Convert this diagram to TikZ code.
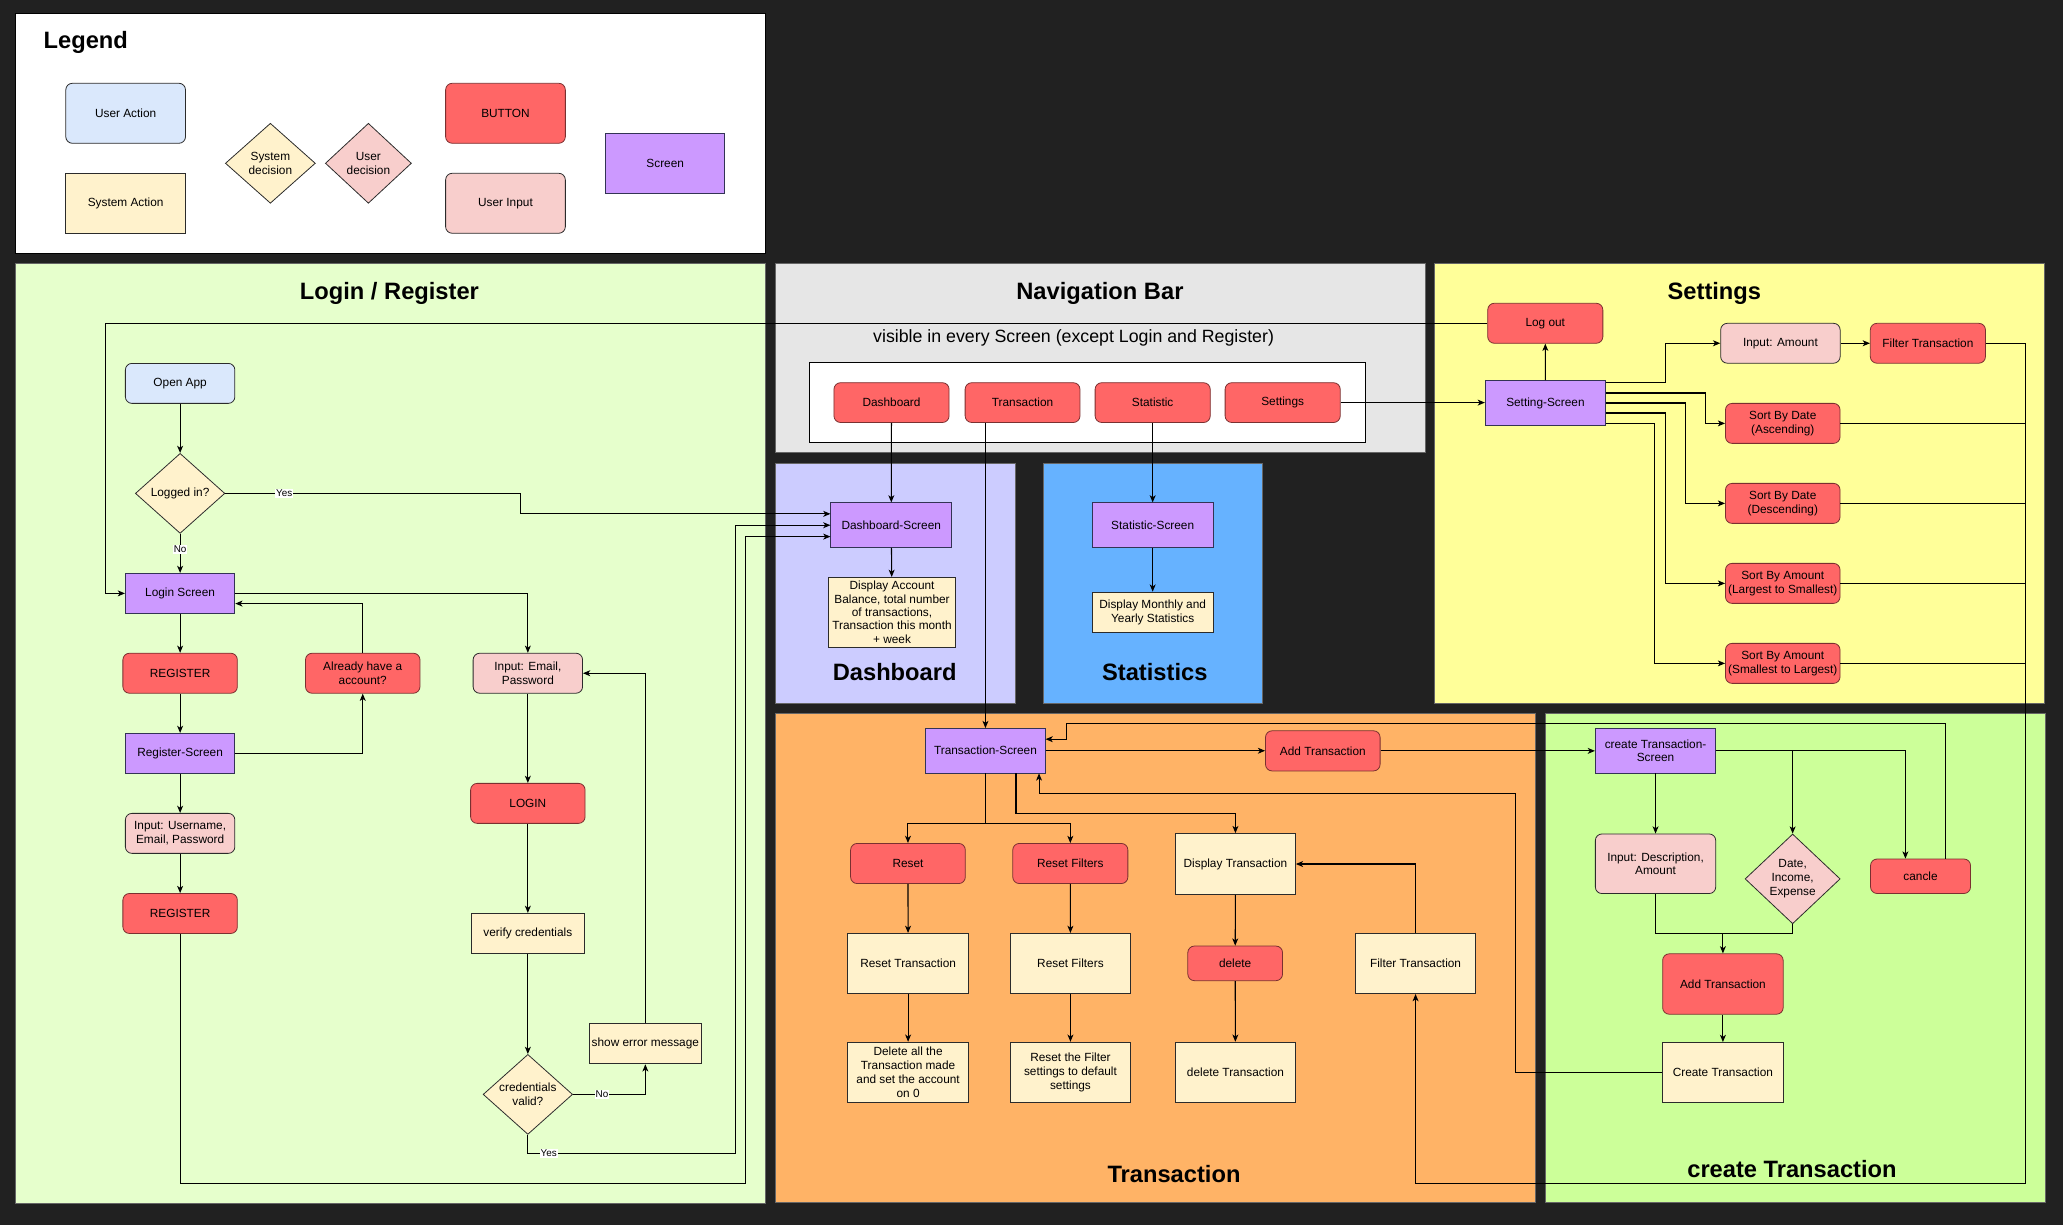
\documentclass[tikz,border=0pt]{standalone}
\usepackage{fontspec}
\setmainfont{Liberation Sans}
\usetikzlibrary{arrows.meta,calc,shapes.geometric}

\definecolor{bgdark}{HTML}{212121}
\definecolor{uablue}{HTML}{DAE8FC}
\definecolor{sayellow}{HTML}{FFF2CC}
\definecolor{btnred}{HTML}{FF6666}
\definecolor{uipink}{HTML}{F8CECC}
\definecolor{scrpurple}{HTML}{CC99FF}
\definecolor{loginbg}{HTML}{E6FFCC}
\definecolor{navbg}{HTML}{E6E6E6}
\definecolor{dashbg}{HTML}{CCCCFF}
\definecolor{statbg}{HTML}{66B2FF}
\definecolor{setbg}{HTML}{FFFF99}
\definecolor{transbg}{HTML}{FFB366}
\definecolor{ctbg}{HTML}{CCFF99}
\definecolor{strokeA}{HTML}{2B2B2B}
\definecolor{btnstroke}{HTML}{7A3030}
\definecolor{scrstroke}{HTML}{333355}

\begin{document}
\begin{tikzpicture}[x=1pt,y=-1pt,
  nbox/.style={line width=0.6pt, align=center, font=\fontsize{9}{10.5}\selectfont, inner sep=1pt, text=black},
  wh/.style 2 args={minimum width=#1pt, minimum height=#2pt},
  uact/.style={nbox, rounded corners=5pt, fill=uablue, draw=strokeA},
  sact/.style={nbox, fill=sayellow, draw=strokeA},
  btn/.style={nbox, rounded corners=5pt, fill=btnred, draw=btnstroke},
  uin/.style={nbox, rounded corners=5pt, fill=uipink, draw=strokeA},
  scr/.style={nbox, fill=scrpurple, draw=scrstroke},
  sdec/.style={nbox, diamond, inner sep=0pt, fill=sayellow, draw=strokeA},
  udec/.style={nbox, diamond, inner sep=0pt, fill=uipink, draw=strokeA},
  panel/.style={draw=black!60, line width=0.6pt},
  ptitle/.style={font=\fontsize{18}{21}\selectfont\bfseries, inner sep=0pt},
  conn/.style={draw=black, line width=0.8pt},
  arr/.style={conn, -{Stealth[length=5.5pt,width=4.5pt,inset=1.5pt]}},
  lbl/.style={fill=white, inner sep=0.6pt, font=\fontsize{7.5}{8}\selectfont}]

% canvas
\fill[bgdark] (0,0) rectangle (1568,931);

% ---------- legend ----------
\path[fill=white, draw=black, line width=0.6pt] (11.5,10.5) rectangle (581.5,192.5);
\node[ptitle, anchor=west] (legendTitle) at (33,32.5) {Legend};
\node[uact, wh={91}{45.6}] (lgUA) at (95.5,86.1) {User Action};
\node[sact, wh={91}{45.6}] (lgSA) at (95.5,154.5) {System Action};
\node[sdec, wh={68.4}{60.8}, aspect=1.125] (lgSD) at (205.5,124.1) {System\\decision};
\node[udec, wh={65.4}{60.8}, aspect=1.075] (lgUD) at (280,124.1) {User\\decision};
\node[btn, wh={91}{45.6}] (lgBT) at (384.2,86.1) {BUTTON};
\node[uin, wh={91}{45.6}] (lgUI) at (384.2,154.5) {User Input};
\node[scr, wh={90.7}{45.6}] (lgSC) at (505.6,124.1) {Screen};

% ---------- panels ----------
\path[panel, fill=loginbg] (11.5,200) rectangle (582,914.5);
\path[panel, fill=navbg] (589,200) rectangle (1083,344);
\path[panel, fill=dashbg] (589,352.5) rectangle (771.5,534.6);
\path[panel, fill=statbg] (793,352.5) rectangle (959.2,534.6);
\path[panel, fill=setbg] (1090.5,200.2) rectangle (1554,534.6);
\path[panel, fill=transbg] (589,542.2) rectangle (1167,914.2);
\path[panel, fill=ctbg] (1174.5,542.2) rectangle (1554.5,914.2);
\path[fill=white, draw=black, line width=0.6pt] (615.5,275.8) rectangle (1037.5,336.4);

\node[ptitle] (tLogin) at (296,222.9) {Login / Register};
\node[ptitle] (tNav) at (836,222.9) {Navigation Bar};
\node[font=\fontsize{13.5}{16}\selectfont, inner sep=0pt] (tNavSub) at (816,256.8) {visible in every Screen (except Login and Register)};
\node[ptitle] (tDash) at (680,510.6) {Dashboard};
\node[ptitle] (tStat) at (877.7,510.6) {Statistics};
\node[ptitle] (tSet) at (1303,222.9) {Settings};
\node[ptitle] (tTrans) at (892.3,892) {Transaction};
\node[ptitle] (tCreate) at (1362,888.3) {create Transaction};

% ---------- login / register ----------
\node[uact, wh={83.2}{30.4}] (open) at (136.9,291.4) {Open App};
\node[sdec, wh={68}{60.8}, aspect=1.12] (logged) at (136.9,375) {Logged in?};
\node[scr, wh={83.2}{30.4}] (login) at (136.9,451) {Login Screen};
\node[btn, wh={87}{30.4}] (reg1) at (136.9,511.7) {REGISTER};
\node[btn, wh={87}{30.4}] (already) at (275.7,511.7) {Already have a\\account?};
\node[uin, wh={83.2}{30.4}] (inemail) at (401.2,511.7) {Input: Email,\\Password};
\node[scr, wh={83.2}{30.4}] (regscr) at (136.9,572.6) {Register-Screen};
\node[uin, wh={83.2}{30.4}] (inuser) at (136.9,633.4) {Input: Username,\\Email, Password};
\node[btn, wh={87}{30.4}] (reg2) at (136.9,694.3) {REGISTER};
\node[btn, wh={87}{30.4}] (loginbtn) at (401.2,610.6) {LOGIN};
\node[sact, wh={85.4}{30.4}] (verify) at (401.2,709.4) {verify credentials};
\node[sdec, wh={68}{60.8}, aspect=1.12] (valid) at (401.2,831.8) {credentials\\valid?};
\node[sact, wh={85.5}{30.4}, inner sep=0pt] (errmsg) at (490.5,793.4) {show error message};

% ---------- navigation bar ----------
\node[btn, wh={87.5}{30.2}] (nbdash) at (677.6,306) {Dashboard};
\node[btn, wh={87.3}{30.2}] (nbtrans) at (777.2,306) {Transaction};
\node[btn, wh={87.5}{30.2}] (nbstat) at (876.1,306) {Statistic};
\node[btn, wh={87.5}{30.2}] (nbset) at (974.9,306) {Settings};

% ---------- dashboard / statistics ----------
\node[scr, wh={91.8}{34}] (dscr) at (677.4,399.2) {Dashboard-Screen};
\node[sact, wh={96.3}{53}, inner sep=0pt, font=\fontsize{9}{10.2}\selectfont] (dispacc) at (678,465.3)
  {Display Account\\Balance, total number\\of transactions,\\Transaction this month\\+ week};
\node[scr, wh={92}{34}] (sscr) at (876.1,399.2) {Statistic-Screen};
\node[sact, wh={92}{30.4}] (dispstat) at (876.1,465.2) {Display Monthly and\\Yearly Statistics};

% ---------- settings ----------
\node[btn, wh={87.5}{30.4}] (logout) at (1174.5,245.7) {Log out};
\node[scr, wh={91.4}{34}] (setscr) at (1174.6,306.3) {Setting-Screen};
\node[uin, wh={90.8}{30.3}] (inamt) at (1353.2,260.9) {Input: Amount};
\node[btn, wh={87.5}{30.3}] (filt) at (1465.3,260.9) {Filter Transaction};
\node[btn, wh={87.1}{30.4}] (sasc) at (1355,321.8) {Sort By Date\\(Ascending)};
\node[btn, wh={87.1}{30.4}] (sdesc) at (1355,382.6) {Sort By Date\\(Descending)};
\node[btn, wh={87.1}{30.4}, inner sep=0pt] (sl2s) at (1355,443.4) {Sort By Amount\\(Largest to Smallest)};
\node[btn, wh={87.1}{30.4}, inner sep=0pt] (ss2l) at (1355,504.2) {Sort By Amount\\(Smallest to Largest)};

% ---------- transaction ----------
\node[scr, wh={90.7}{33.8}] (tscr) at (749,570.6) {Transaction-Screen};
\node[btn, wh={87.1}{30.5}] (addt) at (1005.4,570.7) {Add Transaction};
\node[btn, wh={87.2}{30.5}] (reset) at (690.1,656.3) {Reset};
\node[btn, wh={87.5}{30.5}] (rfbtn) at (813.5,656.3) {Reset Filters};
\node[sact, wh={91.2}{46.3}] (disp) at (939,656.7) {Display Transaction};
\node[sact, wh={91.8}{45.8}] (rtr) at (690.2,732.3) {Reset Transaction};
\node[sact, wh={91.5}{45.8}] (rfact) at (813.6,732.3) {Reset Filters};
\node[btn, wh={72}{26.3}] (del) at (938.8,732.2) {delete};
\node[sact, wh={91.2}{45.8}] (ftrans) at (1075.9,732.3) {Filter Transaction};
\node[sact, wh={91.8}{45.8}] (delall) at (690.2,815) {Delete all the\\Transaction made\\and set the account\\on 0};
\node[sact, wh={91.5}{45.8}] (rfdef) at (813.6,815) {Reset the Filter\\settings to default\\settings};
\node[sact, wh={91.2}{45.8}] (deltr) at (939,815) {delete Transaction};

% ---------- create transaction ----------
\node[scr, wh={91.5}{33.8}] (cts) at (1258.3,570.6) {create Transaction-\\Screen};
\node[uin, wh={91.5}{45.3}] (indesc) at (1258.3,656.5) {Input: Description,\\Amount};
\node[udec, wh={72.3}{68.2}, aspect=1.06] (dte) at (1362.5,668) {Date,\\Income,\\Expense};
\node[btn, wh={76}{26.2}] (cancle) at (1459.7,666) {cancle};
\node[btn, wh={91.6}{45.9}] (addt2) at (1309.5,747.9) {Add Transaction};
\node[sact, wh={91.6}{45.8}] (ctr) at (1309.5,815.2) {Create Transaction};

% ---------- routing helpers ----------
\coordinate (vYes) at (395.5,0);
\coordinate (vL1) at (559.3,0);
\coordinate (vL2) at (566.5,0);
\coordinate (hY) at (0,876.6);
\coordinate (hR) at (0,899.4);
\coordinate (vLog) at (80.2,0);
\coordinate (dIn1) at ($(dscr.north west)!0.25!(dscr.south west)$);
\coordinate (dIn2) at ($(dscr.north west)!0.5!(dscr.south west)$);
\coordinate (dIn3) at ($(dscr.north west)!0.75!(dscr.south west)$);
\coordinate (lgIn) at ($(login.north east)!0.75!(login.south east)$);
\coordinate (s1) at ($(setscr.north east)!0.06!(setscr.south east)$);
\coordinate (s2) at ($(setscr.north east)!0.28!(setscr.south east)$);
\coordinate (s3) at ($(setscr.north east)!0.5!(setscr.south east)$);
\coordinate (s4) at ($(setscr.north east)!0.72!(setscr.south east)$);
\coordinate (s5) at ($(setscr.north east)!0.94!(setscr.south east)$);
\coordinate (vS1) at (1265.8,0);
\coordinate (vS2) at (1296.2,0);
\coordinate (vS3) at (1280.8,0);
\coordinate (vS4) at (1265.8,0);
\coordinate (vS5) at (1257.8,0);
\coordinate (vR) at (1539.5,0);
\coordinate (hB) at (0,899.5);
\coordinate (hSplit) at (0,625.7);
\coordinate (hD) at (0,618.1);
\coordinate (tb2) at ($(tscr.south west)!0.754!(tscr.south east)$);
\coordinate (tb3) at ($(tscr.south west)!0.946!(tscr.south east)$);
\coordinate (vRet) at (1151.7,0);
\coordinate (hRet) at (0,603);
\coordinate (tr1) at ($(tscr.north east)!0.245!(tscr.south east)$);
\coordinate (cnout) at ($(cancle.north west)!0.75!(cancle.north east)$);
\coordinate (cnin) at ($(cancle.north west)!0.35!(cancle.north east)$);
\coordinate (hTop) at (0,549.8);
\coordinate (vCx) at (810.8,0);
\coordinate (hM) at (0,709.6);

% ---------- connectors: login / register ----------
\draw[arr] (open) -- (logged);
\draw[arr] (logged) -- node[lbl, pos=0.4] {No} (login);
\draw[arr] (logged.east) -- node[lbl, pos=0.2] {Yes} (logged.east -| vYes) |- (dIn1);
\draw[arr] (login.east) -| (inemail.north);
\draw[arr] (already.north) |- (lgIn);
\draw[arr] (login) -- (reg1);
\draw[arr] (reg1) -- (regscr);
\draw[arr] (regscr.east) -| (already.south);
\draw[arr] (regscr) -- (inuser);
\draw[arr] (inuser) -- (reg2);
\draw[arr] (reg2.south) |- (vL2 |- hR) |- (dIn3);
\draw[arr] (inemail) -- (loginbtn);
\draw[arr] (loginbtn) -- (verify);
\draw[arr] (verify) -- (valid);
\draw[arr] (valid.east) -| node[lbl, pos=0.2] {No} (errmsg.south);
\draw[arr] (errmsg.north) |- (inemail.east);
\draw[arr] (valid.south) |- node[lbl, pos=0.55] {Yes} (vL1 |- hY) |- (dIn2);
\draw[arr] (logout.west) -| (vLog |- login.west) -- (login.west);

% ---------- connectors: navigation ----------
\draw[arr] (nbdash) -- (dscr);
\draw[arr] (tscr.north |- nbtrans.south) -- (tscr.north);
\draw[arr] (nbstat) -- (sscr);
\draw[arr] (nbset.east) -- (setscr.west |- nbset.east);
\draw[arr] (dscr) -- (dispacc);
\draw[arr] (sscr) -- (dispstat);

% ---------- connectors: settings ----------
\draw[arr] (setscr) -- (logout);
\draw[arr] (s1) -- (s1 -| vS1) |- (inamt.west);
\draw[arr] (s2) -- (s2 -| vS2) |- (sasc.west);
\draw[arr] (s3) -- (s3 -| vS3) |- (sdesc.west);
\draw[arr] (s4) -- (s4 -| vS4) |- (sl2s.west);
\draw[arr] (s5) -- (s5 -| vS5) |- (ss2l.west);
\draw[arr] (inamt) -- (filt);
\draw[arr] (filt.east) -- (filt.east -| vR) -- (vR |- hB) -| (ftrans.south);
\draw[conn] (sasc.east) -- (sasc.east -| vR);
\draw[conn] (sdesc.east) -- (sdesc.east -| vR);
\draw[conn] (sl2s.east) -- (sl2s.east -| vR);
\draw[conn] (ss2l.east) -- (ss2l.east -| vR);

% ---------- connectors: transaction ----------
\draw[arr] (tscr.east) -- (addt.west |- tscr.east);
\draw[arr] (addt.east) -- (cts.west |- addt.east);
\draw[arr] (tscr.south) -- (tscr.south |- hSplit) -| (reset.north);
\draw[arr] (tscr.south |- hSplit) -| (rfbtn.north);
\draw[arr] (tb2) -- (tb2 |- hD) -| (disp.north);
\draw[arr] (reset) -- (rtr);
\draw[arr] (rtr) -- (delall);
\draw[arr] (rfbtn) -- (rfact);
\draw[arr] (rfact) -- (rfdef);
\draw[arr] (disp) -- (del);
\draw[arr] (del) -- (deltr);
\draw[arr] (ftrans.north) |- (disp.east);
\draw[arr] (ctr.west) -- (ctr.west -| vRet) |- (tb3 |- hRet) -- (tb3);
\draw[arr] (cnout) -- (cnout |- hTop) -- (vCx |- hTop) |- (tr1);

% ---------- connectors: create transaction ----------
\draw[arr] (cts.east) -- (cts.east -| cnin) -- (cnin);
\draw[arr] (cts.east -| dte.north) -- (dte.north);
\draw[arr] (cts) -- (indesc);
\draw[conn] (indesc.south) |- (addt2.north |- hM);
\draw[conn] (dte.south) |- (addt2.north |- hM);
\draw[arr] (addt2.north |- hM) -- (addt2.north);
\draw[arr] (addt2) -- (ctr);

\end{tikzpicture}
\end{document}
